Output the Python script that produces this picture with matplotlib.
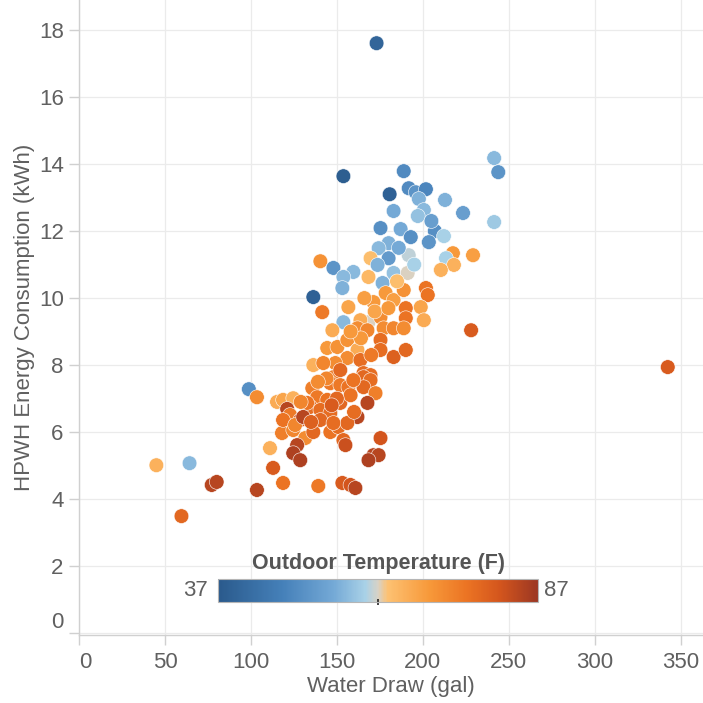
import matplotlib
matplotlib.use("Agg")
import matplotlib.pyplot as plt
from matplotlib.colors import LinearSegmentedColormap, Normalize

plt.rcParams['font.family'] = ['Liberation Sans', 'DejaVu Sans']

# Daily water draw (gal), HPWH energy use (kWh) and outdoor temperature (F)
water_draw = [
    173.1, 153.8, 188.9, 180.7, 191.8, 195.9, 201.8, 197.7, 200.6, 197.1,
    212.9, 223.4, 241.5, 243.9, 241.5, 175.4, 187.1, 193.0, 207.0, 212.3,
    203.5, 180.1, 174.3, 180.1, 191.8, 169.6, 140.4, 148.0, 159.6, 153.8,
    153.2, 168.4, 173.7, 183.0, 191.2, 176.6, 217.5, 213.5, 218.1, 210.5,
    229.2, 136.3, 141.5, 156.7, 153.8, 171.3, 178.4, 183.0, 188.9, 201.8,
    202.9, 190.1, 190.1, 198.8, 200.6, 168.4, 163.7, 162.0, 167.8, 175.4,
    177.2, 183.0, 188.9, 147.4, 228.1, 175.4, 175.4, 183.0, 190.1, 144.4,
    150.3, 156.1, 162.0, 156.1, 136.3, 149.1, 163.7, 165.5, 169.6, 148.0,
    342.5,
    98.8, 103.5, 115.2, 118.7, 124.6, 121.1, 135.7, 146.2, 152.0, 156.7,
    138.6, 144.4, 134.5, 140.4, 146.2, 152.0, 165.5, 169.6, 165.5, 172.5,
    167.8, 162.0, 118.1, 124.6, 131.6, 136.3, 146.2, 150.9, 156.1, 153.8,
    155.0, 126.9, 124.6, 128.7, 111.1, 175.4, 171.3, 174.3, 168.4, 112.9,
    118.7, 103.5, 139.2, 153.2, 157.9, 160.8, 45.0, 64.3, 59.6, 77.2,
    80.1, 132.7, 140.4, 148.0, 122.8, 128.7, 118.7, 152.0, 159.6, 125.7,
    130.4, 142.1,
    158.0, 150.0, 144.0, 139.0, 160.0, 135.0, 129.0, 147.0, 170.0, 164.0,
    172.0, 180.0, 185.0, 166.0, 158.0, 195.0, 186.0, 205.0, 183.0,
]
energy = [
    17.61, 13.64, 13.79, 13.10, 13.28, 13.16, 13.25, 12.96, 12.63, 12.45,
    12.93, 12.54, 14.18, 13.76, 12.27, 12.09, 12.06, 11.82, 12.00, 11.85,
    11.67, 11.64, 11.49, 11.19, 11.28, 11.19, 11.10, 10.90, 10.78, 10.63,
    10.30, 10.63, 10.99, 10.75, 10.75, 10.45, 11.34, 11.19, 10.99, 10.84,
    11.28, 10.03, 9.58, 9.73, 9.28, 9.88, 10.15, 9.94, 10.24, 10.30,
    10.09, 9.70, 9.40, 9.73, 9.34, 9.28, 9.34, 9.10, 9.04, 9.43,
    9.10, 9.10, 9.10, 9.04, 9.04, 8.75, 8.45, 8.24, 8.45, 8.51,
    8.54, 8.75, 8.45, 8.21, 8.00, 8.06, 8.15, 7.76, 7.70, 7.64,
    7.94,
    7.28, 7.04, 6.90, 6.96, 7.01, 6.69, 7.31, 7.46, 7.40, 7.34,
    7.04, 6.96, 6.75, 6.66, 6.57, 6.87, 7.64, 7.55, 7.34, 7.16,
    6.87, 6.45, 5.97, 6.06, 5.82, 6.00, 6.00, 6.15, 6.27, 5.76,
    5.61, 5.61, 5.37, 5.16, 5.52, 5.82, 5.31, 5.31, 5.16, 4.93,
    4.48, 4.27, 4.39, 4.48, 4.42, 4.33, 5.01, 5.07, 3.49, 4.42,
    4.51, 6.87, 6.36, 6.27, 6.51, 6.36, 6.36, 7.85, 7.55, 6.21,
    6.45, 8.06,
    7.10, 7.00, 7.60, 7.50, 6.60, 6.30, 6.90, 6.80, 8.30, 8.80,
    9.60, 9.70, 10.50, 10.00, 9.00, 11.00, 11.50, 12.30, 12.60,
]
temperature = [
    40, 38, 49, 39, 49, 51, 48, 56, 57, 58,
    56, 53, 57, 51, 59, 50, 55, 50, 50, 60,
    51, 56, 57, 52, 61, 64, 71, 51, 57, 57,
    56, 65, 56, 58, 62, 56, 70, 60, 66, 66,
    69, 39, 75, 68, 57, 70, 70, 69, 71, 76,
    76, 76, 76, 68, 67, 62, 67, 72, 73, 72,
    72, 73, 72, 67, 80, 77, 77, 79, 78, 70,
    71, 71, 67, 72, 66, 72, 77, 77, 77, 74,
    80,
    50, 72, 67, 68, 66, 84, 74, 75, 75, 76,
    75, 76, 77, 77, 77, 78, 78, 77, 78, 74,
    84, 84, 74, 73, 72, 78, 76, 77, 78, 78,
    82, 84, 85, 85, 66, 81, 84, 84, 85, 80,
    76, 84, 75, 80, 81, 84, 66, 57, 78, 84,
    84, 76, 78, 77, 75, 80, 76, 78, 76, 73,
    84, 73,
    76, 78, 73, 72, 77, 79, 73, 80, 75, 70,
    68, 70, 64, 69, 70, 60, 55, 53, 55,
]

x_ticks = [0, 50, 100, 150, 200, 250, 300, 350]
y_ticks = [0, 2, 4, 6, 8, 10, 12, 14, 16, 18]
temp_min, temp_max, temp_mid = 37, 87, 62

# Orange-blue diverging palette, cool to warm
temp_cmap = LinearSegmentedColormap.from_list(
    "orange_blue",
    [(0.00, "#2a5a8c"), (0.20, "#4580b9"), (0.36, "#74a9d6"),
     (0.46, "#a9d1e7"), (0.50, "#d8d2c6"), (0.53, "#fdc172"),
     (0.66, "#f7993a"), (0.78, "#eb7323"), (0.88, "#d4561d"),
     (1.00, "#9c3723")])
norm = Normalize(vmin=temp_min, vmax=temp_max)

text_grey = "#606060"
fig = plt.figure(figsize=(7.03, 7.03), dpi=100)
ax = fig.add_axes([0.1124, 0.0967, 0.8876, 0.9033])

ax.grid(True, color="#ebebeb", linewidth=0.9, zorder=0)
ax.set_axisbelow(True)
sc = ax.scatter(water_draw, energy, c=temperature, cmap=temp_cmap, norm=norm,
                s=112, edgecolors="white", linewidths=0.4, zorder=3)

ax.set_xlim(0, 363)
ax.set_ylim(-0.06, 18.9)
ax.set_xticks(x_ticks)
ax.set_yticks(y_ticks)
for side in ("top", "right"):
    ax.spines[side].set_visible(False)
for side in ("left", "bottom"):
    ax.spines[side].set_color("#d0d0d0")
    ax.spines[side].set_linewidth(1.0)
ax.tick_params(colors="#d0d0d0", length=7, width=1.0, labelcolor=text_grey,
               labelsize=16)
ax.tick_params(axis="x", pad=5)
ax.tick_params(axis="y", pad=4)
ax.get_xticklabels()[0].set_horizontalalignment("left")
ax.get_yticklabels()[0].set_verticalalignment("bottom")

ax.set_xlabel("Water Draw (gal)", fontsize=16, color=text_grey)
ax.set_ylabel("HPWH Energy Consumption (kWh)", fontsize=16, color=text_grey)
ax.xaxis.set_label_coords(0.5, -0.064)
ax.yaxis.set_label_coords(-0.0705, 0.5)

# Colour legend inside the plot area
cax = fig.add_axes([218 / 703, 1 - 602 / 703, 320 / 703, 23 / 703])
cbar = fig.colorbar(sc, cax=cax, orientation="horizontal")
cbar.outline.set_edgecolor("#b5b5b5")
cbar.outline.set_linewidth(0.8)
cbar.set_ticks([temp_mid])
cbar.ax.tick_params(length=4, width=1.2, color="#222222", direction="inout",
                    labelbottom=False)
fig.text(208 / 703, 1 - 590 / 703, str(temp_min), ha="right", va="center",
         fontsize=16, color=text_grey)
fig.text(544 / 703, 1 - 590 / 703, str(temp_max), ha="left", va="center",
         fontsize=16, color=text_grey)
fig.text(379 / 703, 1 - 563 / 703, "Outdoor Temperature (F)", ha="center",
         va="center", fontsize=15.5, fontweight="bold", color="#555555")

fig.savefig("out.png", dpi=100)
